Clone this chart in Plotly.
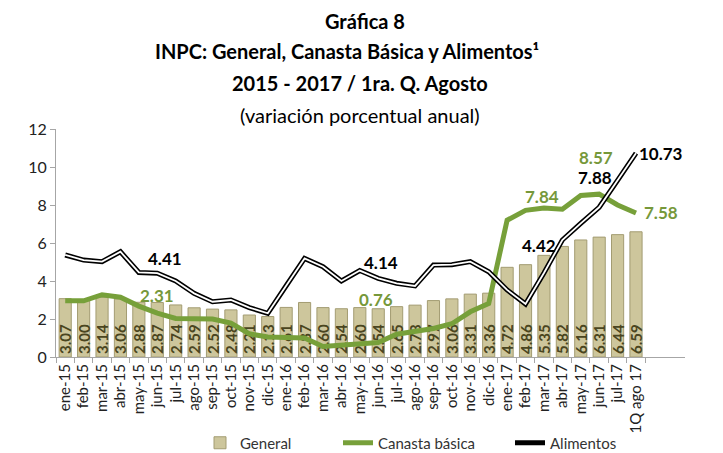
import plotly.graph_objects as go

categories = [
    "ene-15", "feb-15", "mar-15", "abr-15", "may-15", "jun-15", "jul-15", "ago-15",
    "sep-15", "oct-15", "nov-15", "dic-15", "ene-16", "feb-16", "mar-16", "abr-16",
    "may-16", "jun-16", "jul-16", "ago-16", "sep-16", "oct-16", "nov-16", "dic-16",
    "ene-17", "feb-17", "mar-17", "abr-17", "may-17", "jun-17", "jul-17", "1Q ago 17",
]
general = [
    3.07, 3.00, 3.14, 3.06, 2.88, 2.87, 2.74, 2.59, 2.52, 2.48, 2.21, 2.13,
    2.61, 2.87, 2.60, 2.54, 2.60, 2.54, 2.65, 2.73, 2.97, 3.06, 3.31, 3.36,
    4.72, 4.86, 5.35, 5.82, 6.16, 6.31, 6.44, 6.59,
]
canasta = [
    2.96, 2.96, 3.28, 3.15, 2.68, 2.31, 2.03, 2.03, 2.00, 1.78, 1.22, 1.05,
    1.03, 1.00, 0.55, 0.63, 0.72, 0.76, 1.20, 1.33, 1.50, 1.75, 2.38, 2.82,
    7.20, 7.72, 7.84, 7.78, 8.50, 8.57, 8.00, 7.58,
]
alimentos = [
    5.37, 5.10, 5.02, 5.54, 4.45, 4.41, 4.00, 3.35, 2.91, 3.00, 2.60, 2.30,
    3.75, 5.19, 4.75, 4.00, 4.55, 4.14, 3.88, 3.74, 4.84, 4.86, 5.02, 4.49,
    3.53, 2.79, 4.42, 6.16, 7.03, 7.88, 9.30, 10.73,
]

# points that carry a value label
canasta_labeled = ["jun-15", "jun-16", "mar-17", "jun-17", "1Q ago 17"]
alimentos_labeled = ["jun-15", "jun-16", "mar-17", "jun-17", "1Q ago 17"]

FONT = "Lato"
GREEN = "#77a03a"
GREEN_TXT = "#76983a"

fig = go.Figure()

fig.add_trace(go.Bar(
    x=categories, y=general, name="General",
    marker=dict(color="#cdc69c", line=dict(color="#a39c72", width=1)),
    width=0.66,
    text=[f"{v:.2f}" for v in general],
    textposition="inside", insidetextanchor="start", textangle=-90,
    textfont=dict(family=FONT, size=15, color="#4a4520", weight="bold"),
    legend="legend",
))

fig.add_trace(go.Scatter(
    x=categories, y=canasta, name="Canasta básica", mode="lines",
    line=dict(color=GREEN, width=5),
    legend="legend2",
))

# Alimentos: black outline with white core
fig.add_trace(go.Scatter(
    x=categories, y=alimentos, name="Alimentos", mode="lines",
    line=dict(color="black", width=5),
    legend="legend3",
))
fig.add_trace(go.Scatter(
    x=categories, y=alimentos, mode="lines", showlegend=False,
    line=dict(color="white", width=1.8), hoverinfo="skip",
))

# value labels: (xshift, yshift) per labeled point
canasta_offsets = {"jun-15": (0, 18), "jun-16": (-2, 43), "mar-17": (-2, 12),
                   "jun-17": (-3, 37), "1Q ago 17": (25, 0)}
alimentos_offsets = {"jun-15": (8, 15), "jun-16": (3, 16), "mar-17": (-5, 28),
                     "jun-17": (-4, 30), "1Q ago 17": (25, 0)}

for cat in canasta_labeled:
    i = categories.index(cat)
    dx, dy = canasta_offsets[cat]
    fig.add_annotation(x=cat, y=canasta[i], text=f"{canasta[i]:.2f}", showarrow=False,
                       xshift=dx, yshift=dy,
                       font=dict(family=FONT, size=17, color=GREEN_TXT, weight="bold"))
for cat in alimentos_labeled:
    i = categories.index(cat)
    dx, dy = alimentos_offsets[cat]
    fig.add_annotation(x=cat, y=alimentos[i], text=f"{alimentos[i]:.2f}", showarrow=False,
                       xshift=dx, yshift=dy,
                       font=dict(family=FONT, size=17, color="black", weight="bold"))

# titles (positions in screen pixels; page adds an 8px body margin)
titles = [
    ("Gráfica 8", 365, 21, True),
    ("INPC: General, Canasta Básica y Alimentos¹", 347, 51, True),
    ("2015 - 2017 / 1ra. Q. Agosto", 360, 83, True),
    ("(variación porcentual anual)", 360, 115, False),
]
for text, px, py, bold in titles:
    fig.add_annotation(
        text=text, xref="paper", yref="paper",
        x=(px - 56) / 629, y=(357 - py) / 228, xanchor="center", yanchor="middle",
        showarrow=False,
        font=dict(family=FONT, size=20, color="black", weight="bold" if bold else "normal"),
    )

legend_style = dict(orientation="h", yanchor="middle", y=(357 - 443) / 228,
                    xanchor="left", font=dict(family=FONT, size=15, color="#333"),
                    bgcolor="rgba(0,0,0,0)", itemwidth=30)

fig.update_layout(
    width=715, height=445,
    margin=dict(l=48, r=38, t=121, b=96, autoexpand=False),
    paper_bgcolor="white", plot_bgcolor="white",
    font=dict(family=FONT, size=15, color="#222"),
    bargap=0.34,
    uniformtext=dict(minsize=15, mode="show"),
    legend=dict(x=(200 - 56) / 629, **legend_style),
    legend2=dict(x=(338 - 56) / 629, **legend_style),
    legend3=dict(x=(510 - 56) / 629, **legend_style),
)
fig.update_xaxes(
    type="category", tickangle=-90, showgrid=False, automargin=False,
    showline=True, linecolor="#a6a6a6", linewidth=1,
    ticks="outside", tickson="boundaries", ticklen=5, tickcolor="#a6a6a6",
    tickfont=dict(family=FONT, size=15, color="#222"),
)
fig.update_yaxes(
    range=[0, 12], dtick=2, showgrid=False, zeroline=False, automargin=False,
    showline=True, linecolor="#a6a6a6", linewidth=1,
    ticks="outside", ticklen=5, tickcolor="#a6a6a6",
    tickfont=dict(family=FONT, size=16, color="#222"),
)

fig.write_html("out.html")
